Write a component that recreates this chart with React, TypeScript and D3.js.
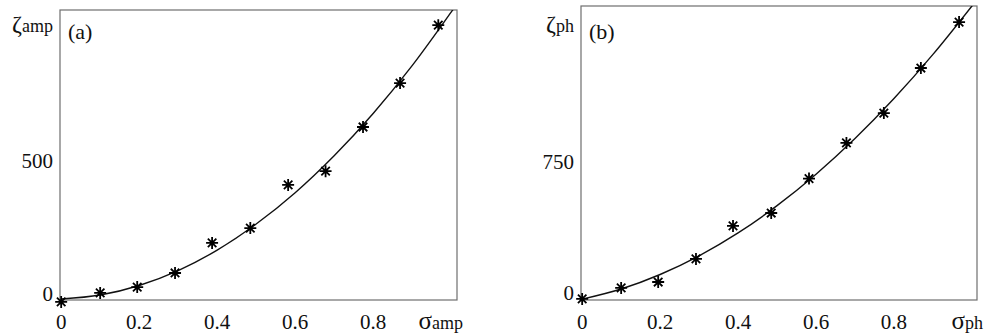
import React from "react";
import * as d3 from "d3";

// sigma values of the measured points (same for both panels)
const sigmaPts = [0, 0.1, 0.195, 0.292, 0.387, 0.485, 0.582, 0.678, 0.774, 0.869, 0.967];
const zetaAmpPts = [-30, 4, 26, 79, 192, 248, 410, 462, 628, 793, 1011];
const zetaPhPts = [-34, 29, 63, 195, 384, 458, 655, 859, 1030, 1288, 1551];

// fitted curves
const sigmaFit = [0, 0.1, 0.2, 0.3, 0.4, 0.5, 0.6, 0.7, 0.8, 0.9, 1.0, 1.02];
const zetaAmpFit = [-19, -4, 32, 88, 165, 263, 381, 520, 679, 859, 1060, 1101];
const zetaPhFit = [-35, 23, 106, 213, 344, 500, 680, 884, 1113, 1366, 1643, 1700];

const xTicks = [0, 0.2, 0.4, 0.6, 0.8];
const xTickLabels = ["0", "0.2", "0.4", "0.6", "0.8"];

const FONT = "'Liberation Serif', 'DejaVu Serif', serif";

function star(cx: number, cy: number, r: number) {
  // 8-arm asterisk
  let d = "";
  for (let i = 0; i < 4; i++) {
    const a = (i * Math.PI) / 4;
    const dx = r * Math.sin(a), dy = r * Math.cos(a);
    d += `M${cx - dx},${cy - dy}L${cx + dx},${cy + dy}`;
  }
  return d;
}

function Panel({ id, left, top, right, bottom, xDomain, yDomain, pts, fit, yTicks, yTickLabels, tag, ySub, xSub }: any) {
  const x = d3.scaleLinear().domain(xDomain).range([left, right]);
  const y = d3.scaleLinear().domain(yDomain).range([bottom, top]);
  const line = d3.line<number>()
    .x((d, i) => x(sigmaFit[i]))
    .y(d => y(d))
    .curve(d3.curveMonotoneX);

  return (
    <g>
      <defs>
        <clipPath id={`clip-${id}`}>
          <rect x={left} y={top} width={right - left} height={bottom - top} />
        </clipPath>
      </defs>
      <rect x={left} y={top} width={right - left} height={bottom - top} fill="none" stroke="#6e6e6e" strokeWidth={1.2} />
      <path d={line(fit) || ""} fill="none" stroke="#111" strokeWidth={1.4} clipPath={`url(#clip-${id})`} />
      {pts.map((v: number, i: number) => (
        <path key={i} d={star(x(sigmaPts[i]), y(v), 6)} stroke="#000" strokeWidth={1.8} fill="none" />
      ))}
      {yTicks.map((t: number, i: number) => (
        <text key={i} x={left - 7} y={y(t)} dy="0.35em" textAnchor="end" fontSize={21} fontFamily={FONT} fill="#111">
          {yTickLabels[i]}
        </text>
      ))}
      {xTicks.map((t, i) => (
        <text key={i} x={x(t)} y={329} textAnchor="middle" fontSize={21} fontFamily={FONT} fill="#111">
          {xTickLabels[i]}
        </text>
      ))}
      <text x={left + 8} y={39} fontSize={22} fontFamily={FONT} fill="#111">{tag}</text>
      <text x={left - 7} y={32} textAnchor="end" fontFamily={FONT} fill="#111">
        <tspan fontSize={24}>ζ</tspan><tspan fontSize={18}>{ySub}</tspan>
      </text>
      <text x={right + 6} y={329} textAnchor="end" fontFamily={FONT} fill="#111">
        <tspan fontSize={25}>σ</tspan><tspan fontSize={18}>{xSub}</tspan>
      </text>
    </g>
  );
}

export default function App() {
  return (
    <svg width={984} height={335} style={{ position: "absolute", left: 0, top: 0, background: "#fff" }}>
      <Panel id="a" left={60} top={10} right={457} bottom={300}
        xDomain={[-0.003, 1.015]} yDomain={[-22.6, 1068]}
        pts={zetaAmpPts} fit={zetaAmpFit}
        yTicks={[0, 500]} yTickLabels={["0", "500"]}
        tag="(a)" ySub="amp" xSub="amp" />
      <Panel id="b" left={581} top={6} right={977} bottom={300}
        xDomain={[-0.003, 1.013]} yDomain={[-40, 1643]}
        pts={zetaPhPts} fit={zetaPhFit}
        yTicks={[0, 750]} yTickLabels={["0", "750"]}
        tag="(b)" ySub="ph" xSub="ph" />
    </svg>
  );
}
